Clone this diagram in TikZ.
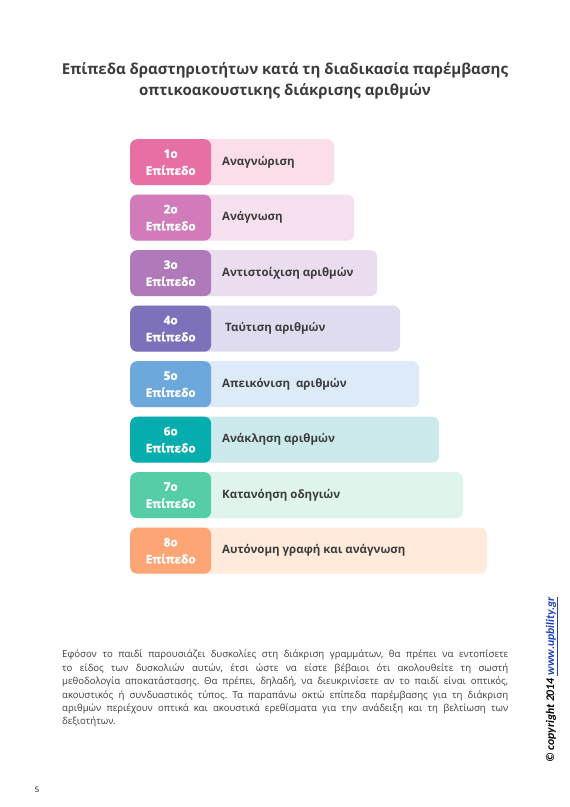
\documentclass[tikz,border=0pt]{standalone}
\usepackage{fontspec}
\setmainfont{Open Sans}
\newfontfamily\carl{Carlito}
\newfontfamily\heavy{Open Sans Bold}[FakeBold=1.2]
\definecolor{txt}{HTML}{3C3C3C}
\definecolor{dA}{HTML}{E86FA4}\definecolor{lA}{HTML}{FCDDEA}
\definecolor{dB}{HTML}{D27BBA}\definecolor{lB}{HTML}{F5E0F0}
\definecolor{dC}{HTML}{B07ABA}\definecolor{lC}{HTML}{EBDDF0}
\definecolor{dD}{HTML}{7D71BB}\definecolor{lD}{HTML}{E0DCF0}
\definecolor{dE}{HTML}{6CA8DB}\definecolor{lE}{HTML}{DDEAF7}
\definecolor{dF}{HTML}{06ADAE}\definecolor{lF}{HTML}{CCEAEB}
\definecolor{dG}{HTML}{55CEA7}\definecolor{lG}{HTML}{DFF5EB}
\definecolor{dH}{HTML}{FEA575}\definecolor{lH}{HTML}{FFEADC}
\definecolor{linkblue}{HTML}{1F3FBF}
\tikzset{
  lightbox/.style={rounded corners=7pt, minimum height=46pt, inner sep=0pt, anchor=north west, draw=none},
  labelbox/.style={rounded corners=7pt, minimum height=46pt, minimum width=81pt, inner sep=0pt, anchor=north west, text=white, align=center, font=\heavy\fontsize{11.8}{17}\selectfont},
  rowtext/.style={anchor=west, inner sep=0pt, text=txt, font=\fontsize{11.5}{13}\selectfont\bfseries},
}
\begin{document}
\begin{tikzpicture}[x=1pt,y=-1pt]
\useasboundingbox (0,0) rectangle (570,807);
\fill[white] (0,0) rectangle (570,807);
\node[anchor=north, align=center, inner sep=0pt, text=txt, font=\fontsize{15}{21.5}\selectfont\bfseries] (title) at (285,62)
  {Επίπεδα δραστηριοτήτων κατά τη διαδικασία παρέμβασης\\οπτικοακουστικης διάκρισης αριθμών};
\foreach \i/\c/\r/\dx/\t in {
  1/A/334/222/{Αναγνώριση},
  2/B/354/222/{Ανάγνωση},
  3/C/377/222/{Αντιστοίχιση αριθμών},
  4/D/400/225/{Ταύτιση αριθμών},
  5/E/419/222/{Απεικόνιση\ \ αριθμών},
  6/F/439/222/{Ανάκληση αριθμών},
  7/G/463/222/{Κατανόηση οδηγιών},
  8/H/487/222/{Αυτόνομη γραφή και ανάγνωση}} {
  \pgfmathsetmacro{\rtop}{139+55.5*(\i-1)}
  \pgfmathsetmacro{\bw}{\r-130}
  \node[lightbox, fill=l\c, minimum width=\bw pt] (bg\i) at (130,\rtop) {};
  \node[labelbox, fill=d\c] (lb\i) at (130,\rtop) {\i ο\\Επίπεδο};
  \node[rowtext] (tx\i) at (\dx,\rtop+23) {\t};
}
\node[anchor=north west, inner sep=0pt, text width=446pt, align=justify, text=txt, font=\fontsize{9.6}{13.4}\selectfont\frenchspacing] (para) at (62,650)
  {Εφόσον το παιδί παρουσιάζει δυσκολίες στη διάκριση γραμμάτων, θα πρέπει να εντοπίσετε\linebreak
   το είδος των δυσκολιών αυτών, έτσι ώστε να είστε βέβαιοι ότι ακολουθείτε τη σωστή\linebreak
   μεθοδολογία αποκατάστασης. Θα πρέπει, δηλαδή, να διευκρινίσετε αν το παιδί είναι οπτικός,\linebreak
   ακουστικός ή συνδυαστικός τύπος. Τα παραπάνω οκτώ επίπεδα παρέμβασης για τη διάκριση\linebreak
   αριθμών περιέχουν οπτικά και ακουστικά ερεθίσματα για την ανάδειξη και τη βελτίωση των\linebreak
   δεξιοτήτων.};
\node[rotate=90, anchor=west, inner sep=0pt, font=\carl\fontsize{11.7}{13}\selectfont\bfseries\itshape] (copy) at (552,763)
  {© copyright 2014 \textcolor{linkblue}{\underline{www.upbility.gr}}};
\node[anchor=center, inner sep=0pt, font=\fontsize{7.5}{9}\selectfont] (pg) at (37,790) {5};
\end{tikzpicture}
\end{document}
